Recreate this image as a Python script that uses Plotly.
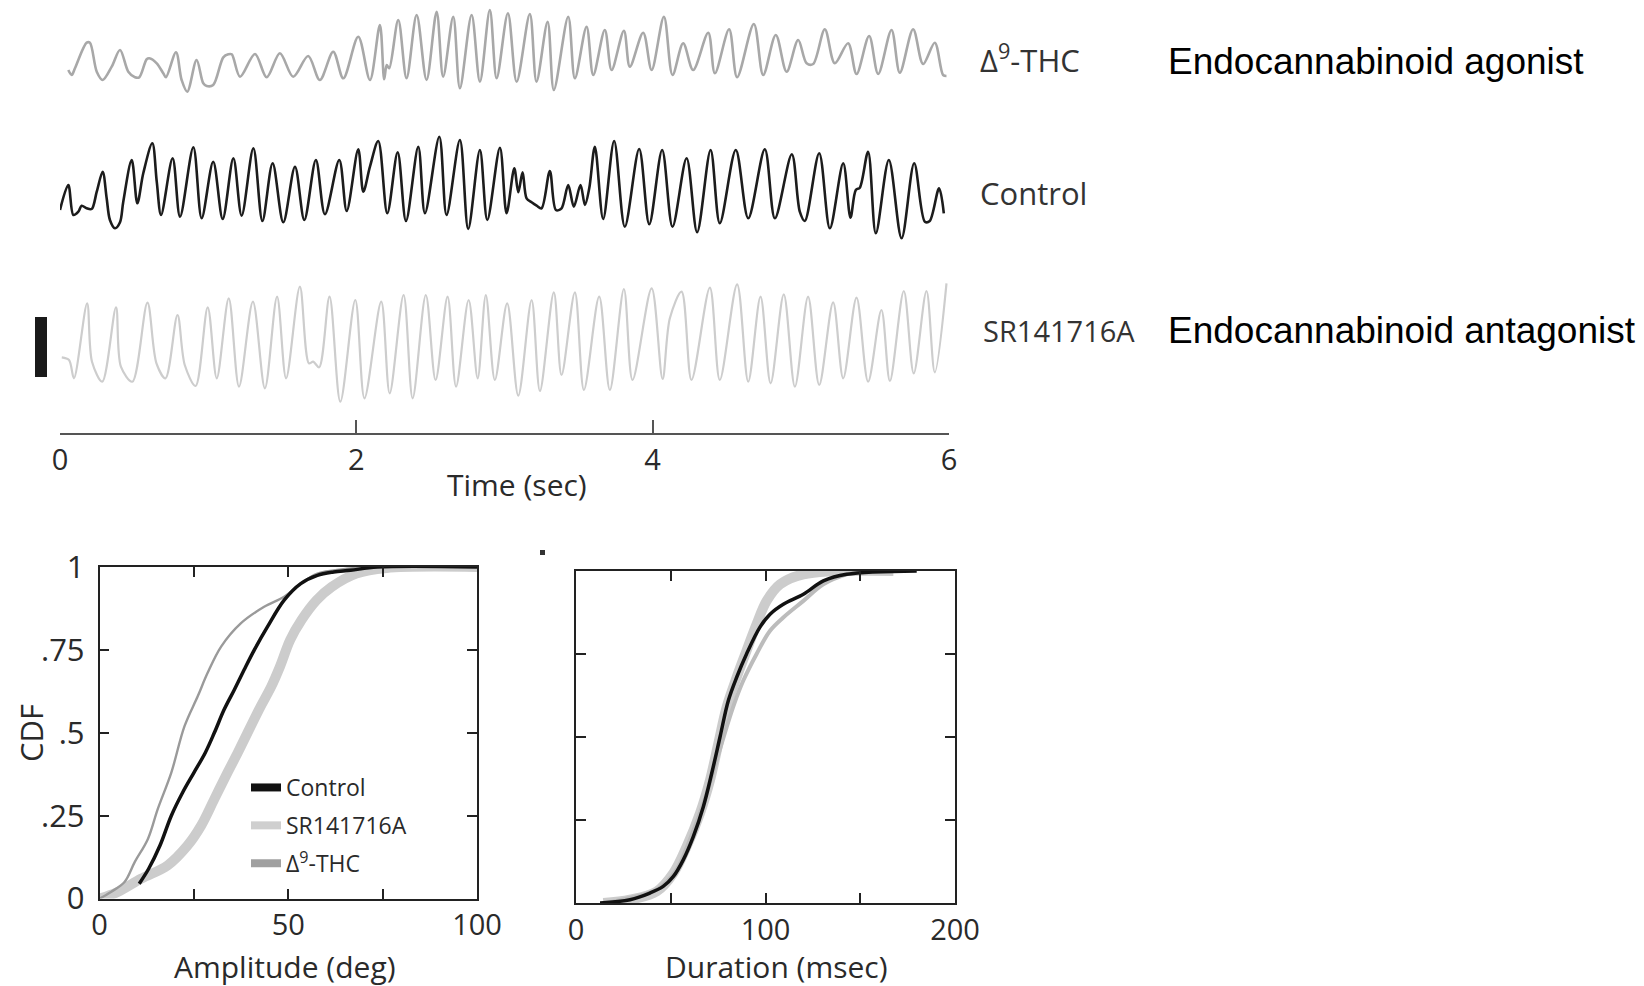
import plotly.graph_objects as go

W, H = 1644, 986

# ---------- stacked records: time (s) and angular deflection (deg) ----------
thc_t = [0.056, 0.079, 0.101, 0.180, 0.202, 0.248, 0.288, 0.349, 0.405, 0.461,
         0.506, 0.535, 0.585, 0.603, 0.653, 0.697, 0.715, 0.783, 0.821, 0.859,
         0.922, 0.967, 0.990, 1.034, 1.102, 1.136, 1.159, 1.215, 1.316, 1.395,
         1.484, 1.574, 1.675, 1.754, 1.844, 1.912, 2.013, 2.092, 2.159, 2.188,
         2.205, 2.222, 2.283, 2.339, 2.407, 2.474, 2.542, 2.586, 2.654, 2.699,
         2.778, 2.834, 2.901, 2.947, 3.023, 3.082, 3.171, 3.216, 3.291, 3.333,
         3.430, 3.475, 3.554, 3.599, 3.677, 3.723, 3.806, 3.846, 3.936, 3.993,
         4.076, 4.134, 4.206, 4.273, 4.375, 4.420, 4.516, 4.570, 4.683, 4.746,
         4.831, 4.904, 4.982, 5.039, 5.083, 5.162, 5.229, 5.319, 5.376, 5.461,
         5.522, 5.612, 5.668, 5.758, 5.825, 5.904, 5.960, 5.983]
thc_v = [-15, -20, -13.3, 12.3, 12.3, -16.7, -25, -11.7, 5, -16.7,
         -22.3, -22.3, -4.3, -3.3, -8.3, -18.3, -22.3, 2.7, -25, -36.7,
         -5, -28.3, -31, -30, -2.3, 0.7, 0.7, -21.7, 1, -22.3,
         1.7, -21.7, -1, -25, 3.3, -23.3, 18.3, -25, 30, -24.3,
         -10, -13.3, 35, -23.3, 40, -25, 43.3, -21.7, 38.3, -33.3,
         40, -26.7, 45, -23.3, 41.7, -26.7, 41, -26.7, 33.3, -35,
         38.3, -23.3, 28.3, -20, 25, -15, 24.3, -11.7, 22.3, -15,
         38.3, -20, 11.7, -15, 22.3, -18.3, 25.7, -22.3, 31, -20,
         20, -16.7, 15, -8.3, -9, 25.7, -8.3, 11.7, -19, 19,
         -19, 25, -17.7, 25.7, -9, 12.3, -20, -21]

ctrl_t = [0.000, 0.056, 0.090, 0.124, 0.146, 0.180, 0.214, 0.248, 0.288, 0.315,
          0.337, 0.371, 0.405, 0.427, 0.484, 0.522, 0.562, 0.623, 0.653, 0.682,
          0.760, 0.810, 0.900, 0.956, 1.034, 1.098, 1.170, 1.226, 1.305, 1.366,
          1.435, 1.507, 1.586, 1.649, 1.727, 1.788, 1.885, 1.935, 2.013, 2.047,
          2.092, 2.148, 2.209, 2.279, 2.335, 2.418, 2.463, 2.560, 2.609, 2.699,
          2.755, 2.834, 2.884, 2.969, 3.014, 3.066, 3.093, 3.122, 3.149, 3.183,
          3.217, 3.250, 3.306, 3.347, 3.385, 3.430, 3.468, 3.513, 3.543, 3.572,
          3.610, 3.666, 3.740, 3.812, 3.909, 3.977, 4.064, 4.134, 4.229, 4.300,
          4.391, 4.453, 4.561, 4.645, 4.757, 4.825, 4.939, 4.993, 5.027, 5.124,
          5.196, 5.286, 5.335, 5.371, 5.398, 5.454, 5.506, 5.594, 5.680, 5.765,
          5.837, 5.870, 5.933, 5.965]
ctrl_v = [-30, -5, -35, -31.7, -25.7, -28.3, -29, -11.7, 8.3, -18.3,
          -40, -48.3, -42.3, -21.7, 20, -23.3, 6.7, 36.7, -1.7, -35,
          21.7, -36.7, 32.7, -38.3, 18.3, -39, 21.7, -35.7, 31.7, -41,
          16.7, -42.3, 13.3, -40, 20, -34.3, 20, -31, 30.7, -11.7,
          13.3, 39, -33.3, 27.7, -41, 33.3, -33.3, 43.3, -35, 40,
          -49, 30, -40, 32.3, -33.3, 11.7, -12.3, 7.7, -18.3, -22.3,
          -25.7, -28.3, 9, -30, -28.3, -5, -26.7, -5, -25, -8.3,
          33.3, -39, 39, -46.7, 31, -44.3, 30, -46.7, 21.7, -52.3,
          30, -43.3, 30, -38.3, 30.7, -38.3, 25.7, -31.7, -41, 26.7,
          -48.3, 16.7, -37.7, -10, -7.7, 28.3, -53.3, 20, -58.3, 16.7,
          -41.7, -41, -8.3, -33.3]

sr_t = [0.012, 0.061, 0.094, 0.183, 0.216, 0.285, 0.378, 0.411, 0.488, 0.590,
        0.651, 0.712, 0.793, 0.842, 0.915, 0.997, 1.058, 1.139, 1.208, 1.302,
        1.383, 1.465, 1.526, 1.619, 1.680, 1.709, 1.749, 1.819, 1.892, 1.993,
        2.055, 2.168, 2.225, 2.319, 2.380, 2.469, 2.535, 2.616, 2.673, 2.758,
        2.819, 2.874, 2.935, 3.018, 3.093, 3.183, 3.239, 3.333, 3.385, 3.475,
        3.536, 3.639, 3.711, 3.806, 3.864, 3.993, 4.067, 4.116, 4.195, 4.262,
        4.386, 4.453, 4.570, 4.645, 4.728, 4.796, 4.885, 4.960, 5.049, 5.124,
        5.218, 5.286, 5.376, 5.454, 5.544, 5.601, 5.695, 5.762, 5.848, 5.904,
        5.983]
sr_v = [-32.3, -35, -53.3, 21.7, -36.7, -56.7, 17.7, -41.7, -56.7, 22.3,
        -38.3, -53.3, 10, -40, -61, 17.7, -53.3, 26.7, -61.7, 23.3,
        -63.3, 28.3, -53.3, 38.3, -38.3, -36.7, -42.3, 28.3, -76.7, 25,
        -73.3, 23.3, -68.3, 30, -73.3, 30, -55, 28.3, -61.7, 25,
        -53.3, 30, -55, 21.7, -70.7, 25, -66, 32.7, -50, 32.7,
        -65, 28.3, -65, 36, -55, 36.7, -54, 6.7, 33.3, -55,
        37.3, -55, 40.7, -56.7, 28.3, -58.3, 30.7, -61.7, 28.3, -60,
        22.7, -53.3, 27.3, -56.7, 15, -56, 34, -48.3, 34, -47.3,
        41.7]

time_ticks = [0, 2, 4, 6]

# ---------- cumulative distributions ----------
amp_ctrl_x = [10.5, 13, 16, 19, 22, 25, 28, 30.4, 33, 35.7, 38.3, 41, 44.5, 48.9, 53.3, 57.7, 62, 66.5, 73.6, 100]
amp_ctrl_y = [0.045, 0.09, 0.16, 0.25, 0.32, 0.38, 0.44, 0.50, 0.57, 0.63, 0.69, 0.75, 0.82, 0.90, 0.95, 0.975, 0.985, 0.99, 1.0, 1.0]

amp_thc_x = [0, 3, 6.6, 9.3, 12.8, 15.4, 19, 22.5, 26, 28.6, 32.2, 37.4, 43.6, 48.9, 53.3, 57.7, 62, 71]
amp_thc_y = [0, 0.02, 0.05, 0.11, 0.18, 0.27, 0.38, 0.52, 0.61, 0.68, 0.76, 0.83, 0.88, 0.91, 0.95, 0.98, 0.99, 1.0]

amp_sr_x = [0, 4.8, 11, 18, 23.3, 26.9, 30.4, 33.9, 36.6, 39.2, 42.7, 45.5, 47.8, 50.5, 53.5, 57.5, 61.5, 68, 76, 100]
amp_sr_y = [0, 0.02, 0.06, 0.10, 0.16, 0.22, 0.30, 0.38, 0.44, 0.50, 0.58, 0.64, 0.70, 0.78, 0.84, 0.90, 0.94, 0.98, 0.997, 1.0]

dur_ctrl_x = [12.7, 28.5, 39, 46, 51.4, 56.6, 61.9, 67.2, 71.6, 76, 80.4, 84.8, 90, 97, 102.4, 109.4, 120, 130.5, 142.8, 179.8]
dur_ctrl_y = [0, 0.01, 0.03, 0.05, 0.08, 0.13, 0.20, 0.29, 0.39, 0.50, 0.61, 0.68, 0.75, 0.83, 0.87, 0.90, 0.93, 0.97, 0.99, 1.0]

dur_sr_x = [14.4, 28.5, 42.6, 51.4, 58.4, 65.4, 70.7, 75.1, 79.5, 84.8, 90, 95.3, 100.6, 107.7, 120, 167.5]
dur_sr_y = [0, 0.01, 0.035, 0.09, 0.17, 0.27, 0.37, 0.48, 0.59, 0.68, 0.76, 0.84, 0.91, 0.96, 0.99, 1.0]

dur_thc_x = [16, 28.5, 42.6, 53, 60, 67.2, 74.2, 79.5, 83.5, 88.3, 95.3, 102.4, 109.4, 120, 130.5, 142.8, 152]
dur_thc_y = [0, 0.015, 0.04, 0.10, 0.19, 0.30, 0.43, 0.53, 0.60, 0.67, 0.75, 0.82, 0.86, 0.91, 0.96, 0.99, 1.0]

cdf_ticks = [0, 0.25, 0.5, 0.75, 1]
cdf_labels = ["0", ".25", ".5", ".75", "1"]
amp_ticks = [0, 50, 100]
dur_ticks = [0, 100, 200]

FONT = "Open Sans"
TXT = "#2a2a2a"


def fx(px):
    return px / W


def fy(py):
    return 1 - py / H


# resting level of each record on the stacked axis
BASE_THC, BASE_CTRL, BASE_SR = -55, -180, -325

fig = go.Figure()

for t, v, base, col, lw in [
    (thc_t, thc_v, BASE_THC, "#a8a8a8", 2.6),
    (ctrl_t, ctrl_v, BASE_CTRL, "#1c1c1c", 2.6),
    (sr_t, sr_v, BASE_SR, "#cdcdcd", 2.2),
]:
    fig.add_trace(go.Scatter(
        x=t, y=[a + base for a in v], mode="lines",
        line=dict(color=col, width=lw, shape="spline", smoothing=0.9),
        xaxis="x", yaxis="y", showlegend=False, hoverinfo="skip"))

# amplitude CDFs
fig.add_trace(go.Scatter(x=amp_sr_x, y=amp_sr_y, mode="lines",
                         line=dict(color="#cccccc", width=10, shape="spline"),
                         xaxis="x2", yaxis="y2", showlegend=False))
fig.add_trace(go.Scatter(x=amp_thc_x, y=amp_thc_y, mode="lines",
                         line=dict(color="#9a9a9a", width=2.4, shape="spline"),
                         xaxis="x2", yaxis="y2", showlegend=False))
fig.add_trace(go.Scatter(x=amp_ctrl_x, y=amp_ctrl_y, mode="lines",
                         line=dict(color="#111111", width=3.5, shape="spline"),
                         xaxis="x2", yaxis="y2", showlegend=False))

# duration CDFs
fig.add_trace(go.Scatter(x=dur_sr_x, y=dur_sr_y, mode="lines",
                         line=dict(color="#cccccc", width=10, shape="spline"),
                         xaxis="x3", yaxis="y3", showlegend=False))
fig.add_trace(go.Scatter(x=dur_thc_x, y=dur_thc_y, mode="lines",
                         line=dict(color="#bcbcbc", width=4, shape="spline"),
                         xaxis="x3", yaxis="y3", showlegend=False))
fig.add_trace(go.Scatter(x=dur_ctrl_x, y=dur_ctrl_y, mode="lines",
                         line=dict(color="#111111", width=3.5, shape="spline"),
                         xaxis="x3", yaxis="y3", showlegend=False))

# legend swatches
for name, col, grp in [("Control", "#111111", "a"),
                       ("SR141716A", "#cfcfcf", "b"),
                       ("Δ<sup>9</sup>-THC", "#a0a0a0", "c")]:
    fig.add_trace(go.Scatter(x=[None], y=[None], mode="lines", name=name,
                             legendgroup=grp,
                             line=dict(color=col, width=8),
                             xaxis="x2", yaxis="y2"))


def box(minor_step, size=31):
    return dict(showline=True, linecolor="#222222", linewidth=1.6, mirror="ticks",
                ticks="inside", ticklen=10, tickwidth=1.6, tickcolor="#222222",
                showgrid=False, zeroline=False, automargin=False,
                minor=dict(ticks="inside", ticklen=10, tickwidth=1.6,
                           tickcolor="#222222", dtick=minor_step, tick0=0,
                           showgrid=False),
                tickfont=dict(family=FONT, size=size, color=TXT))


fig.update_layout(
    template="none",
    width=W, height=H, autosize=False,
    margin=dict(l=0, r=0, t=0, b=0, pad=0, autoexpand=False),
    paper_bgcolor="white", plot_bgcolor="white",
    xaxis=dict(domain=[fx(60), fx(949)], range=[0, 6], tickvals=time_ticks,
               ticks="inside", ticklen=13, tickwidth=2, tickcolor="#555555",
               showline=True, linecolor="#555555", linewidth=2,
               showgrid=False, zeroline=False, anchor="y", automargin=False,
               ticklabelstandoff=0,
               tickfont=dict(family=FONT, size=29, color=TXT)),
    yaxis=dict(domain=[fy(433), 1], range=[-433, 0], visible=False, automargin=False),
    xaxis2=dict(domain=[fx(99.6), fx(477)], range=[0, 100], tickvals=amp_ticks,
                anchor="y2", ticklabelstandoff=0, **box(25, 29)),
    yaxis2=dict(domain=[fy(898.6), fy(567)], range=[0, 1], tickvals=cdf_ticks,
                ticktext=cdf_labels, anchor="x2", ticklabelstandoff=7, **box(0.25)),
    xaxis3=dict(domain=[fx(576), fx(955)], range=[0, 200], tickvals=dur_ticks,
                anchor="y3", ticklabelstandoff=0, **box(50, 29)),
    yaxis3=dict(domain=[fy(903), fy(571)], range=[0, 1], tickvals=cdf_ticks,
                showticklabels=False, anchor="x3", **box(0.25)),
    legend=dict(x=fx(246), y=fy(766), xanchor="left", yanchor="top",
                font=dict(family=FONT, size=23, color=TXT),
                bgcolor="rgba(0,0,0,0)", borderwidth=0,
                tracegroupgap=5, itemwidth=30),
    showlegend=True,
)

ann = [
    dict(text="Δ<sup>9</sup>-THC", x=fx(978), y=fy(58), xanchor="left", yanchor="middle",
         font=dict(family=FONT, size=31, color="#333333")),
    dict(text="Control", x=fx(978), y=fy(193), xanchor="left", yanchor="middle",
         font=dict(family=FONT, size=31, color="#333333")),
    dict(text="SR141716A", x=fx(981), y=fy(330), xanchor="left", yanchor="middle",
         font=dict(family=FONT, size=29, color="#333333")),
    dict(text="Endocannabinoid agonist", x=fx(1166), y=fy(61), xanchor="left", yanchor="middle",
         font=dict(family="Liberation Sans", size=37, color="black")),
    dict(text="Endocannabinoid antagonist", x=fx(1166), y=fy(330), xanchor="left", yanchor="middle",
         font=dict(family="Liberation Sans", size=37, color="black")),
    dict(text="Time (sec)", x=fx(517), y=fy(484), xanchor="center", yanchor="middle",
         font=dict(family=FONT, size=30, color=TXT)),
    dict(text="Amplitude (deg)", x=fx(285), y=fy(966), xanchor="center", yanchor="middle",
         font=dict(family=FONT, size=30, color=TXT)),
    dict(text="Duration (msec)", x=fx(776), y=fy(966), xanchor="center", yanchor="middle",
         font=dict(family=FONT, size=30, color=TXT)),
    dict(text="CDF", x=fx(31), y=fy(733), xanchor="center", yanchor="middle", textangle=-90,
         font=dict(family=FONT, size=31, color=TXT)),
]
for a in ann:
    a.update(xref="paper", yref="paper", showarrow=False)
fig.update_layout(annotations=ann)

fig.update_layout(shapes=[
    # vertical scale bar beside the records
    dict(type="rect", xref="paper", yref="paper", x0=fx(35), x1=fx(47),
         y0=fy(377), y1=fy(317), fillcolor="#1a1a1a", line=dict(width=0)),
    dict(type="rect", xref="paper", yref="paper", x0=fx(540), x1=fx(545),
         y0=fy(555), y1=fy(550), fillcolor="#333333", line=dict(width=0)),
])

fig.write_html("out.html")
